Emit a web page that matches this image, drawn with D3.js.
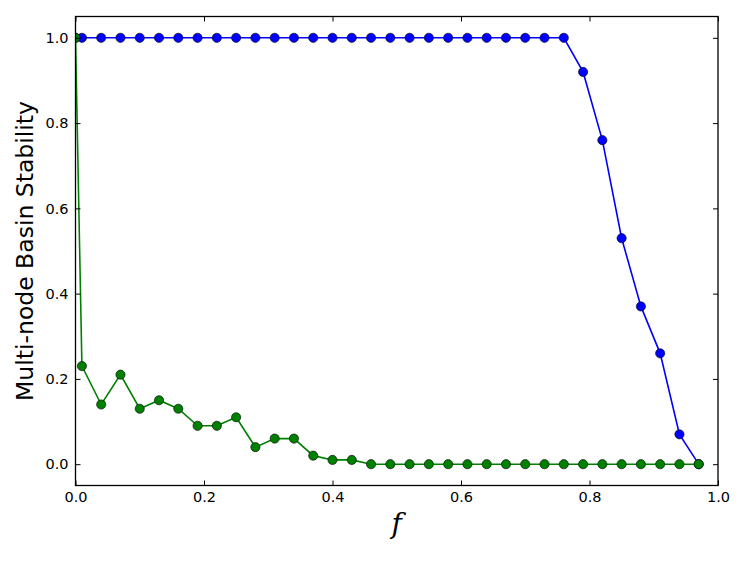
<!DOCTYPE html>
<html>
<head>
<meta charset="utf-8">
<script src="https://cdn.jsdelivr.net/npm/d3@7"></script>
<style>
  body { margin: 0; background: #fff; }
  text { font-family: "DejaVu Sans", sans-serif; }
</style>
</head>
<body>
<svg id="chart" width="747" height="561"></svg>
<script>
  var fValues = [0, 0.01, 0.04, 0.07, 0.10, 0.13, 0.16, 0.19, 0.22, 0.25, 0.28, 0.31,
                 0.34, 0.37, 0.40, 0.43, 0.46, 0.49, 0.52, 0.55, 0.58, 0.61, 0.64, 0.67,
                 0.70, 0.73, 0.76, 0.79, 0.82, 0.85, 0.88, 0.91, 0.94, 0.97];

  var blueValues = [1, 1, 1, 1, 1, 1, 1, 1, 1, 1, 1, 1,
                    1, 1, 1, 1, 1, 1, 1, 1, 1, 1, 1, 1,
                    1, 1, 1, 0.92, 0.76, 0.53, 0.37, 0.26, 0.07, 0.0];

  var greenValues = [1.0, 0.23, 0.14, 0.21, 0.13, 0.15, 0.13, 0.09, 0.09, 0.11, 0.04, 0.06,
                     0.06, 0.02, 0.01, 0.01, 0, 0, 0, 0, 0, 0, 0, 0,
                     0, 0, 0, 0, 0, 0, 0, 0, 0, 0];

  var xTicks = [0, 0.2, 0.4, 0.6, 0.8, 1.0];
  var yTicks = [0, 0.2, 0.4, 0.6, 0.8, 1.0];

  var margin = {left: 75.5, right: 29, top: 16.5, bottom: 75.5},
      width = 747 - margin.left - margin.right,
      height = 561 - margin.top - margin.bottom;

  var x = d3.scaleLinear().domain([0, 1]).range([0, width]);
  var y = d3.scaleLinear().domain([-0.05, 1.05]).range([height, 0]);

  var svg = d3.select("#chart");
  var g = svg.append("g")
      .attr("transform", "translate(" + margin.left + "," + margin.top + ")");

  g.append("clipPath").attr("id", "clip")
    .append("rect").attr("width", width).attr("height", height);

  var plot = g.append("g").attr("clip-path", "url(#clip)");

  var series = [
    {values: blueValues, color: "#0000ff"},
    {values: greenValues, color: "#008000"}
  ];

  var line = d3.line()
      .x(d => x(d[0]))
      .y(d => y(d[1]));

  series.forEach(s => {
    var pts = fValues.map((f, i) => [f, s.values[i]]);
    plot.append("path")
        .datum(pts)
        .attr("fill", "none")
        .attr("stroke", s.color)
        .attr("stroke-width", 1.6)
        .attr("d", line);
    plot.selectAll(null)
        .data(pts)
      .enter().append("circle")
        .attr("cx", d => x(d[0]))
        .attr("cy", d => y(d[1]))
        .attr("r", 4.6)
        .attr("fill", s.color)
        .attr("stroke", "#000")
        .attr("stroke-width", 0.6);
  });

  // ticks inside, on all sides (classic matplotlib)
  var tickLen = 5;
  var xAxisB = d3.axisBottom(x).tickValues(xTicks).tickSizeInner(-tickLen).tickSizeOuter(0)
      .tickPadding(6).tickFormat(d3.format(".1f"));
  var xAxisT = d3.axisTop(x).tickValues(xTicks).tickSizeInner(-tickLen).tickSizeOuter(0)
      .tickFormat("");
  var yAxisL = d3.axisLeft(y).tickValues(yTicks).tickSizeInner(-tickLen).tickSizeOuter(0)
      .tickPadding(7).tickFormat(d3.format(".1f"));
  var yAxisR = d3.axisRight(y).tickValues(yTicks).tickSizeInner(-tickLen).tickSizeOuter(0)
      .tickFormat("");

  function style(a) {
    a.select(".domain").remove();
    a.selectAll("line").attr("stroke", "#000").attr("stroke-width", 1);
    a.selectAll("text").attr("fill", "#000").style("font-size", "14.5px")
      .style("font-family", "'DejaVu Sans', sans-serif");
  }

  g.append("g").attr("transform", "translate(0," + height + ")").call(xAxisB).call(style);
  g.append("g").call(xAxisT).call(style);
  g.append("g").call(yAxisL).call(style);
  g.append("g").attr("transform", "translate(" + width + ",0)").call(yAxisR).call(style);

  g.append("rect")
      .attr("width", width)
      .attr("height", height)
      .attr("fill", "none")
      .attr("stroke", "#000")
      .attr("stroke-width", 1.3);

  svg.append("text")
      .attr("x", margin.left + width / 2)
      .attr("y", 533)
      .attr("text-anchor", "middle")
      .style("font-family", "'DejaVu Serif', serif")
      .style("font-style", "italic")
      .style("font-size", "28px")
      .text("f");

  svg.append("text")
      .attr("transform", "translate(33," + (margin.top + height / 2) + ") rotate(-90)")
      .attr("text-anchor", "middle")
      .style("font-size", "23.5px")
      .text("Multi-node Basin Stability");
</script>
</body>
</html>
